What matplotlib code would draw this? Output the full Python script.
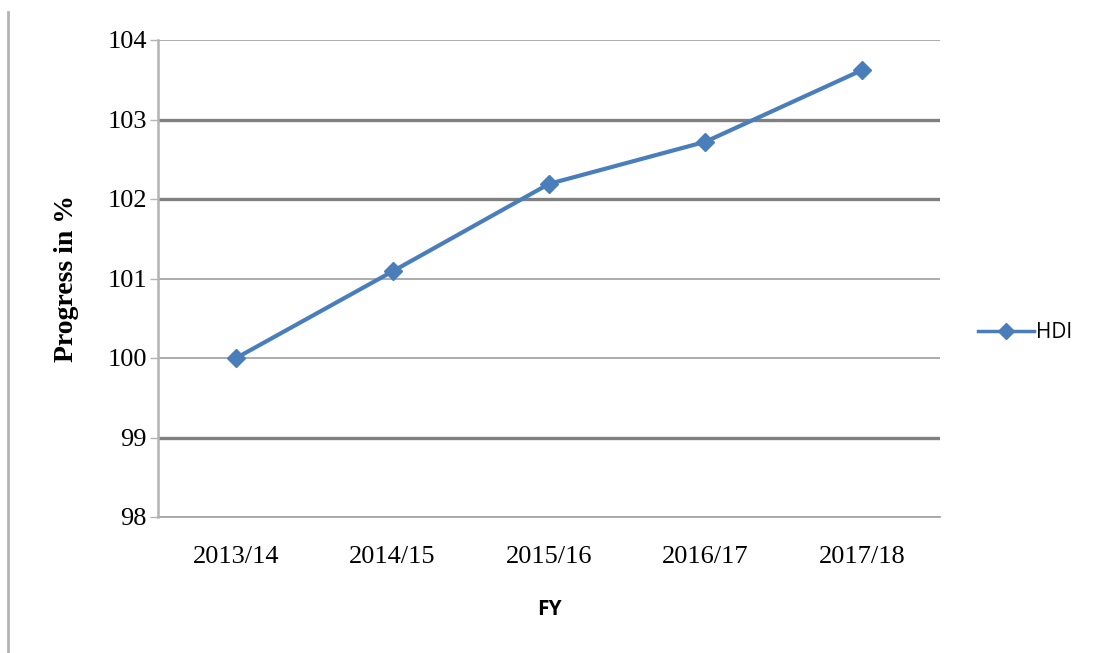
import matplotlib.pyplot as plt
from matplotlib.lines import Line2D

years = ["2013/14", "2014/15", "2015/16", "2016/17", "2017/18"]
hdi = [100.0, 101.09, 102.19, 102.72, 103.62]
y_ticks = [98, 99, 100, 101, 102, 103, 104]
# gridlines at these levels come out heavier
heavy_grid = [99, 102, 103]

BLUE = "#4a7ebb"

fig = plt.figure(figsize=(10.99, 6.53), dpi=100)
ax = fig.add_axes([158 / 1099, 1 - 517 / 653, 782 / 1099, 477 / 653])

for v in y_ticks:
    if v in heavy_grid:
        ax.axhline(v, color="#808080", lw=2.4, zorder=1)
    else:
        ax.axhline(v, color="#a6a6a6", lw=1.3, zorder=1)

x = list(range(len(years)))
ax.plot(x, hdi, color=BLUE, lw=3, marker="D", markersize=9,
        markeredgecolor=BLUE, zorder=3)

ax.set_xlim(-0.5, len(years) - 0.5)
ax.set_ylim(98, 104)
ax.set_yticks(y_ticks)
ax.set_xticks(x)
ax.set_xticklabels(years)

for side in ["top", "right"]:
    ax.spines[side].set_visible(False)
ax.spines["left"].set_color("#b3b3b3")
ax.spines["left"].set_linewidth(1.8)
ax.spines["bottom"].set_color("#a6a6a6")
ax.spines["bottom"].set_linewidth(1.3)
ax.spines["bottom"].set_zorder(2)

ax.tick_params(axis="y", length=6, width=1, color="#b3b3b3", pad=2,
               labelsize=19)
ax.tick_params(axis="x", length=0, pad=21, labelsize=19)
for lab in ax.get_xticklabels() + ax.get_yticklabels():
    lab.set_family("Liberation Serif")

ax.set_ylabel("Progress in %", family="Liberation Serif", fontweight="bold",
              fontsize=20, labelpad=20)
ax.set_xlabel("FY", family="Open Sans", fontweight="bold", fontsize=15,
              labelpad=22)

handle = Line2D([], [], color=BLUE, lw=2.5, marker="D", markersize=8)
leg = fig.legend([handle], ["HDI"], loc="center left",
                 bbox_to_anchor=(978 / 1099, 1 - 333 / 653), frameon=False,
                 prop={"family": "Open Sans", "size": 15},
                 borderpad=0, borderaxespad=0,
                 handlelength=2.7, handletextpad=0.1)

# page border on the left
fig.add_artist(Line2D([8 / 1099, 8 / 1099], [0, 1 - 12 / 653],
                      color="#b3b3b3", lw=2, transform=fig.transFigure))

fig.savefig("out.png", dpi=100)
